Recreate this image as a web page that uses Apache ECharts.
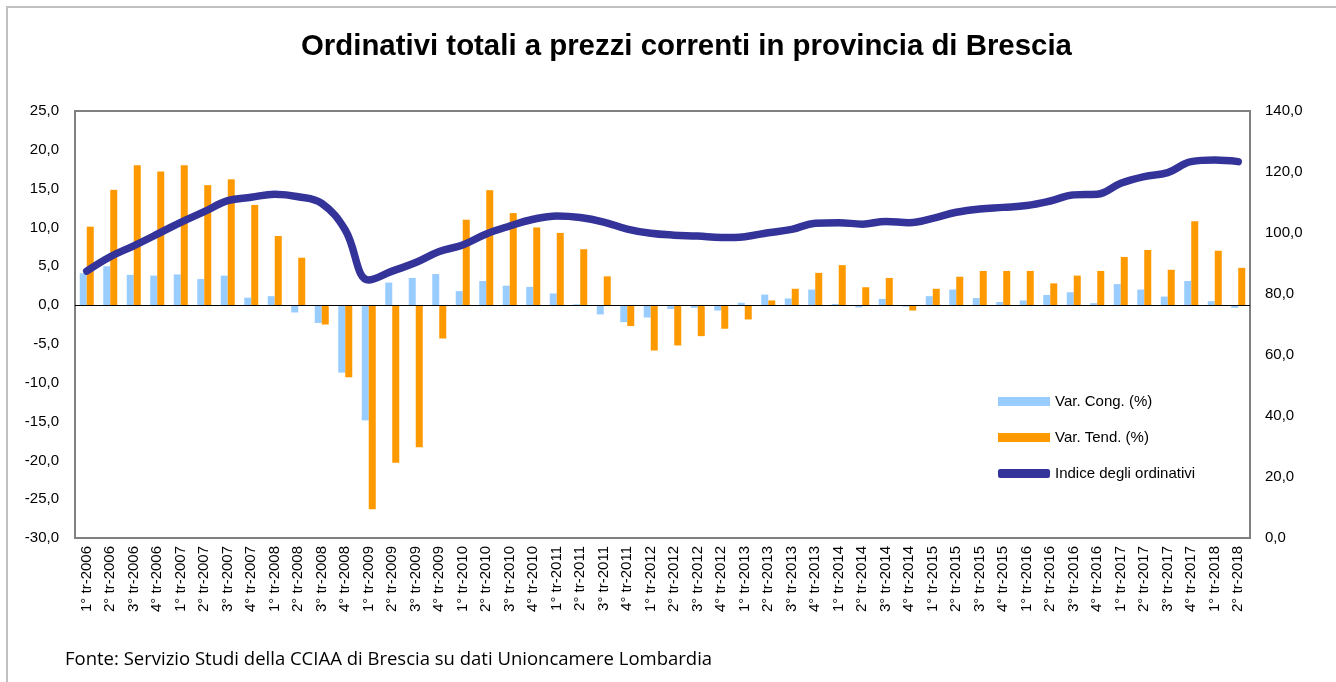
<!DOCTYPE html>
<html>
<head>
<meta charset="utf-8">
<script src="https://cdn.jsdelivr.net/npm/echarts@6/dist/echarts.min.js"></script>
<style>
html,body{margin:0;padding:0;background:#fff;}
#c{width:1336px;height:682px;}
</style>
</head>
<body>
<div id="c"></div>
<script>
const categories = [
 "1° tr-2006","2° tr-2006","3° tr-2006","4° tr-2006",
 "1° tr-2007","2° tr-2007","3° tr-2007","4° tr-2007",
 "1° tr-2008","2° tr-2008","3° tr-2008","4° tr-2008",
 "1° tr-2009","2° tr-2009","3° tr-2009","4° tr-2009",
 "1° tr-2010","2° tr-2010","3° tr-2010","4° tr-2010",
 "1° tr-2011","2° tr-2011","3° tr-2011","4° tr-2011",
 "1° tr-2012","2° tr-2012","3° tr-2012","4° tr-2012",
 "1° tr-2013","2° tr-2013","3° tr-2013","4° tr-2013",
 "1° tr-2014","2° tr-2014","3° tr-2014","4° tr-2014",
 "1° tr-2015","2° tr-2015","3° tr-2015","4° tr-2015",
 "1° tr-2016","2° tr-2016","3° tr-2016","4° tr-2016",
 "1° tr-2017","2° tr-2017","3° tr-2017","4° tr-2017",
 "1° tr-2018","2° tr-2018"
];
const varCong = [
 4.1,5.0,3.9,3.8, 3.95,3.35,3.8,0.95, 1.15,-0.95,-2.3,-8.7,
 -14.85,2.9,3.5,4.0, 1.8,3.1,2.5,2.35, 1.5,0.1,-1.2,-2.2,
 -1.6,-0.5,-0.35,-0.7, 0.3,1.35,0.85,2.0, 0.15,-0.3,0.8,-0.2,
 1.15,2.0,0.9,0.4, 0.6,1.3,1.65,0.25, 2.7,2.0,1.1,3.1, 0.5,-0.35
];
const varTend = [
 10.1,14.85,18.0,17.2, 18.0,15.45,16.2,12.9, 8.9,6.1,-2.5,-9.3,
 -26.3,-20.3,-18.3,-4.3, 11.0,14.8,11.85,10.0, 9.3,7.2,3.7,-2.7,
 -5.85,-5.2,-4.0,-3.05, -1.85,0.6,2.1,4.15, 5.15,2.3,3.5,-0.7,
 2.1,3.65,4.4,4.4, 4.4,2.8,3.8,4.4, 6.2,7.1,4.55,10.8, 7.0,4.8
];
const indice = [
 87.5,92.2,95.8,99.6, 103.5,107.0,110.6,111.7, 112.7,111.9,109.7,101.0,
 84.6,87.5,90.3,93.9, 96.1,99.7,102.3,104.5, 105.6,105.1,103.6,101.3,
 99.9,99.3,99.0,98.5, 98.8,100.1,101.2,103.2, 103.4,102.9,103.8,103.4,
 104.8,106.8,107.9,108.4, 109.0,110.5,112.5,112.7, 116.3,118.5,119.8,123.4, 123.9,123.4
];
const leftTicks = {min:-30, max:25, interval:5};
const rightTicks = {min:0, max:140, interval:20};
const seriesNames = ["Var. Cong. (%)","Var. Tend. (%)","Indice degli ordinativi"];
const titleText = "Ordinativi totali a prezzi correnti in provincia di Brescia";
const sourceText = "Fonte: Servizio Studi della CCIAA di Brescia su dati Unioncamere Lombardia";

const fmt = v => v.toFixed(1).replace('.', ',');
const FONT = "'Liberation Sans', Arial, sans-serif";

const chart = echarts.init(document.getElementById('c'), null, {renderer:'canvas'});
chart.setOption({
  animation:false,
  backgroundColor:'#fff',
  title:{
    text:titleText, left:296, top:27,
    textStyle:{fontFamily:FONT, fontSize:29.4, fontWeight:'bold', color:'#000'}
  },
  graphic:[
    {type:'rect', shape:{x:7, y:7, width:1400, height:800},
     style:{fill:'none', stroke:'#c0c0c0', lineWidth:2}, silent:true, z:-1},
    {type:'text', left:65, top:650,
     style:{text:sourceText, fontFamily:"'Open Sans', sans-serif", fontSize:18.5, fill:'#000'}}
  ],
  legend:{
    orient:'vertical', left:993, top:389,
    itemWidth:52, itemHeight:9, itemGap:21,
    textStyle:{fontFamily:FONT, fontSize:15, color:'#000'},
    data:[
      {name:seriesNames[0], icon:'rect'},
      {name:seriesNames[1], icon:'rect'},
      {name:seriesNames[2], icon:'roundRect', itemStyle:{color:'#333399'}}
    ]
  },
  grid:{left:75, right:86, top:111, bottom:144, show:true, borderColor:'#808080', borderWidth:2, backgroundColor:'transparent'},
  xAxis:{
    type:'category', data:categories,
    axisLine:{show:false}, axisTick:{show:false},
    axisLabel:{rotate:90, interval:0, margin:8, fontFamily:FONT, fontSize:15, color:'#000'}
  },
  yAxis:[
    {type:'value', min:leftTicks.min, max:leftTicks.max, interval:leftTicks.interval,
     axisLine:{show:false}, axisTick:{show:false}, splitLine:{show:false},
     axisLabel:{formatter:fmt, margin:16, fontFamily:FONT, fontSize:15, color:'#000'}},
    {type:'value', min:rightTicks.min, max:rightTicks.max, interval:rightTicks.interval,
     axisLine:{show:false}, axisTick:{show:false}, splitLine:{show:false},
     axisLabel:{formatter:fmt, margin:15, fontFamily:FONT, fontSize:15, color:'#000'}}
  ],
  series:[
    {name:seriesNames[0], type:'bar', yAxisIndex:0, data:varCong, barWidth:7, barGap:'0%',
     itemStyle:{color:'#99CCFF'},
     markLine:{silent:true, symbol:'none', label:{show:false},
       lineStyle:{color:'#000', width:1.2, type:'solid'}, data:[{yAxis:0}]}},
    {name:seriesNames[1], type:'bar', yAxisIndex:0, data:varTend, barWidth:7, barGap:'0%',
     itemStyle:{color:'#FF9900'}},
    {name:seriesNames[2], type:'line', yAxisIndex:1, data:indice, smooth:0.4,
     symbol:'none', showSymbol:false, z:5,
     lineStyle:{color:'#333399', width:7.5, cap:'round', join:'round'},
     itemStyle:{color:'#333399'}}
  ]
});
</script>
</body>
</html>
